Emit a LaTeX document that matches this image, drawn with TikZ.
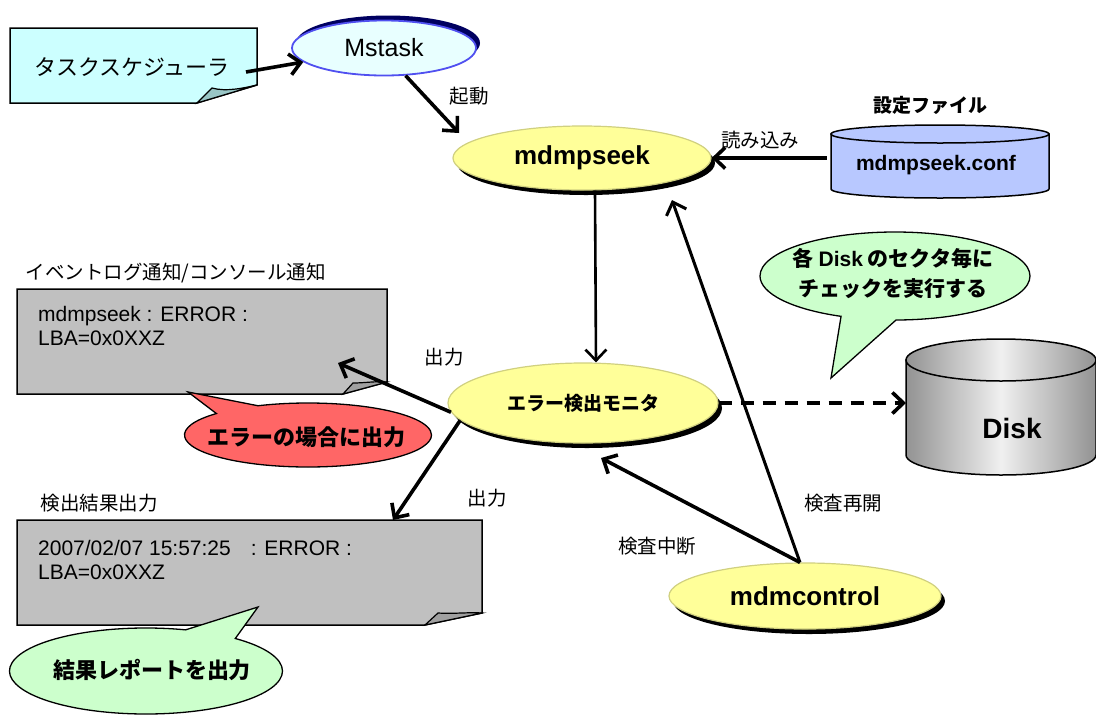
\documentclass[tikz,border=0pt]{standalone}
\usepackage{fontspec}
\setmainfont{Liberation Sans}
\newfontfamily\jp{Noto Sans CJK JP}
\usetikzlibrary{positioning,shapes.geometric,shapes.callouts,shadows,arrows.meta}

\definecolor{notecyan}{HTML}{CCFFFF}
\definecolor{noteflap}{HTML}{99C6C6}
\definecolor{taskfill}{HTML}{E8FFFF}
\definecolor{taskline}{HTML}{5050F0}
\definecolor{taskshadow}{HTML}{000060}
\definecolor{procfill}{HTML}{FFFF99}
\definecolor{procline}{HTML}{D0D080}
\definecolor{conffill}{HTML}{B8C8FF}
\definecolor{boxgray}{HTML}{C0C0C0}
\definecolor{flapgray}{HTML}{A0A0A0}
\definecolor{bubgreen}{HTML}{CCFFCC}
\definecolor{bubred}{HTML}{FF6666}

\begin{document}
\begin{tikzpicture}[x=1pt,y=-1pt,
	proc/.style={ellipse, draw=procline, line width=1.2pt, fill=procfill, inner sep=0pt,
		font=\bfseries\fontsize{26}{30}\selectfont,
		drop shadow={fill=black, opacity=1, shadow xshift=4pt, shadow yshift=-5pt}},
	bubble/.style={ellipse callout, draw=black, line width=1.3pt, inner sep=0pt, callout pointer arc=24},
	bubtext/.style={font=\bfseries\jp\fontsize{22}{30}\selectfont, align=center},
	lbl/.style={font=\jp\fontsize{19.5}{23}\selectfont},
	logtext/.style={font=\fontsize{21}{24}\selectfont, align=left, anchor=north west, inner sep=0pt},
	link/.style={-{Straight Barb[length=11pt,width=21pt]}, line width=3.6pt},
	disk/.style={draw=black, line width=1.5pt, left color=gray!85, right color=gray!85, middle color=gray!12}]
	\useasboundingbox (0,0) rectangle (1096,716);
	% TOP
	\draw[fill=notecyan, line width=1.5pt] (10,28) -- (257,28) -- (257,85) -- (197,103) -- (10,103) -- cycle;
	\draw[fill=noteflap, line width=1.2pt] (197,103) -- (212,88) .. controls (226,92) and (244,88) .. (257,85) -- cycle;
	\node[font=\jp\fontsize{22}{26}\selectfont] (task) at (132,67) {タスクスケジューラ};
	\coordinate (taskout) at (246,72);
	\node[ellipse, draw=taskline, line width=1.8pt, fill=taskfill, inner sep=0pt,
		minimum width=184pt, minimum height=55pt, font=\fontsize{25}{30}\selectfont,
		drop shadow={fill=taskshadow, opacity=1, shadow xshift=4pt, shadow yshift=5pt}] (mstask) at (384,48) {Mstask};
	\draw[link] (taskout) -- (mstask);
	\node[proc, minimum width=258pt, minimum height=64pt] (seek) at (582,158) {mdmpseek};
	\coordinate (kick) at (459,133);
	\draw[link] (mstask.308) -- (kick);
	\node[lbl] (kicklbl) at (469,96) {起動};
	% CONFIG FILE
	\draw[fill=conffill, line width=1.5pt] (831,134) -- (831,189) arc[start angle=180, end angle=0, x radius=109, y radius=9] -- (1049,134) -- cycle;
	\draw[fill=conffill, line width=1.5pt] (940,134) ellipse[x radius=109, y radius=9];
	\node[font=\bfseries\fontsize{21}{24}\selectfont, minimum width=218pt, minimum height=55pt, inner sep=0pt] (conf) at (936,165) {mdmpseek.conf};
	\node[font=\bfseries\jp\fontsize{19}{22}\selectfont] (conftitle) at (930,105) {設定ファイル};
	\draw[link] (seek.east -| conf.west) -- (seek.east);
	\node[lbl] (readlbl) at (760,140) {読み込み};
	% MIDDLE
	\node[proc, minimum width=270pt, minimum height=80pt, font=\bfseries\jp\fontsize{19}{22}\selectfont] (mon) at (583,403) {エラー検出モニタ};
	\draw[link, line width=2.6pt] ([xshift=13pt]seek.south) -- ([xshift=13pt]mon.north);
	\draw[disk] (906,360) -- (906,455) arc[start angle=180, end angle=0, x radius=95, y radius=20] -- (1096,360) -- cycle;
	\draw[disk] (1001,360) ellipse[x radius=95, y radius=21];
	\node[font=\bfseries\fontsize{28}{32}\selectfont] (disk) at (1012,428) {Disk};
	\coordinate (diskwall) at (906,360);
	\draw[link, dash pattern=on 13pt off 9pt] (mon.east) -- (mon.east -| diskwall);
	\node[bubble, fill=bubgreen, minimum width=270pt, minimum height=88pt, callout absolute pointer={(831,378)}] (chk) at (895,276) {};
	\node[bubtext, font=\bfseries\jp\fontsize{21}{30}\selectfont] (chktxt) at (893,273) {各 \textrm{Disk} のセクタ毎に\\チェックを実行する};
	% BOTTOM
	\node[proc, minimum width=272pt, minimum height=66pt] (ctl) at (805,596) {mdmcontrol};
	\coordinate (resume) at (672,200);
	\coordinate (pause) at (601,458);
	\draw[link, line width=3pt] ([xshift=-5pt]ctl.north) -- (resume);
	\draw[link] ([xshift=-5pt]ctl.north) -- (pause);
	\node[lbl] (resumelbl) at (843,503) {検査再開};
	\node[lbl] (pauselbl) at (657,546) {検査中断};
	% LEFT
	\draw[fill=boxgray, line width=1.5pt] (17,289) -- (387,289) -- (387,382) -- (343,394) -- (17,394) -- cycle;
	\draw[fill=flapgray, line width=1.2pt] (343,394) -- (353,383) .. controls (365,383) and (375,381) .. (387,382) -- cycle;
	\node[lbl, anchor=west] (evttitle) at (22,273) {イベントログ通知/コンソール通知};
	\node[logtext] (evt) at (38,306) {mdmpseek : ERROR :\\LBA=0x0XXZ};
	\coordinate (evtin) at (338,363);
	\draw[link] (mon.184) -- (evtin);
	\node[lbl] (evtlbl) at (444,357) {出力};
	\draw[fill=boxgray, line width=1.5pt] (17,520) -- (482,520) -- (482,613) -- (425,625) -- (17,625) -- cycle;
	\draw[fill=flapgray, line width=1.2pt] (425,625) -- (438,613) .. controls (455,614) and (470,612) .. (482,613) -- cycle;
	\node[lbl, anchor=west] (reptitle) at (37,503) {検出結果出力};
	\node[logtext] (rep) at (38,540) {2007/02/07 15:57:25\hspace{20pt}: ERROR :\\LBA=0x0XXZ};
	\coordinate (repin) at (393,520);
	\draw[link] (mon.188) -- (repin);
	\node[lbl] (replbl) at (487,498) {出力};
	\node[bubble, fill=bubred, minimum width=247pt, minimum height=64pt, callout absolute pointer={(188,392)}] (errbub) at (308,435) {};
	\node[bubtext] (errtxt) at (306,437) {エラーの場合に出力};
	\node[bubble, fill=bubgreen, minimum width=273pt, minimum height=86pt, callout absolute pointer={(258,607)}] (repbub) at (146,671) {};
	\node[bubtext] (reptxt) at (152,670) {結果レポートを出力};
\end{tikzpicture}
\end{document}
